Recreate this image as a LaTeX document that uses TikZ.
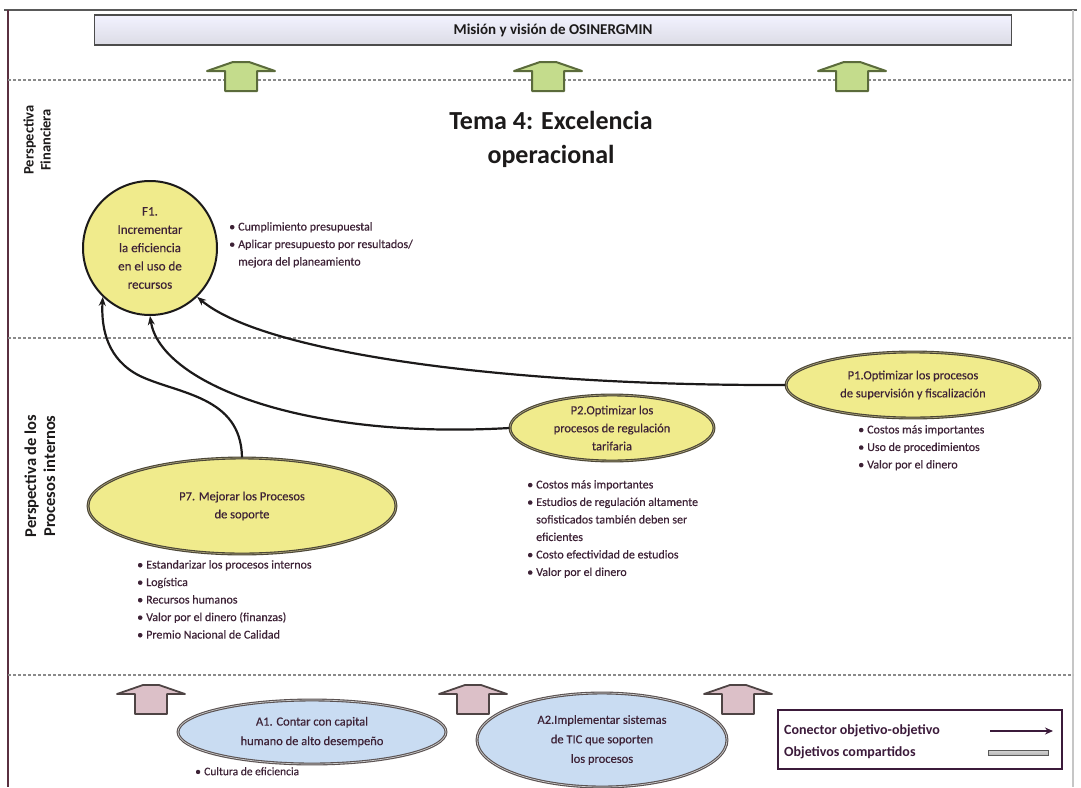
\documentclass[tikz,border=0pt]{standalone}
\usepackage{fontspec}
\setmainfont{Carlito}
\newfontfamily\semib[FakeBold=0.35]{Carlito}
\usetikzlibrary{shapes.geometric,arrows.meta}

\definecolor{txt}{HTML}{3D2236}
\definecolor{ink}{HTML}{1C1A1A}
\definecolor{goalfill}{HTML}{F0EB8C}
\definecolor{goalline}{HTML}{4A4535}
\definecolor{goalinner}{HTML}{A8A07A}
\definecolor{basefill}{HTML}{C9DCF2}
\definecolor{baseline}{HTML}{5A5252}
\definecolor{upgreen}{HTML}{C4DC8C}
\definecolor{upgreenline}{HTML}{5B6B3B}
\definecolor{uppink}{HTML}{DCC0C8}
\definecolor{uppinkline}{HTML}{4E4444}
\definecolor{sepgray}{HTML}{8A8A8A}
\definecolor{framered}{HTML}{5A3040}
\definecolor{legendink}{HTML}{3B1A3A}

\newcommand\bul{\makebox[9pt][l]{\textbullet}}
\newcommand\ind{\hspace*{9pt}}

\tikzset{
  blockup/.pic={
    \path[pic actions] (-16,29) -- (-16,9) -- (-34,9) -- (-8,0) -- (8,0)
      -- (34,9) -- (16,9) -- (16,29) -- cycle;
  },
  greenup/.style={draw=upgreenline, fill=upgreen, line width=2, line join=round},
  pinkup/.style={draw=uppinkline, fill=uppink, line width=1.8, line join=round},
  sepline/.style={draw=sepgray, line width=1.4, dash pattern=on 3pt off 2pt},
  goal/.style={ellipse, draw=goalline, double=goalinner, double distance=0.7pt,
    line width=1.1pt, fill=goalfill, inner sep=0pt, align=center, text=txt,
    font=\fontsize{12.5}{18}\semib},
  base/.style={ellipse, draw=baseline, double=gray!40, double distance=0.7pt,
    line width=1.1pt, fill=basefill, inner sep=0pt, align=center, text=txt,
    font=\fontsize{12.5}{19.5}\semib},
  notes/.style={anchor=north west, align=left, text=txt, inner sep=0pt,
    font=\fontsize{12}{17.5}\semib},
  persp/.style={rotate=90, align=center, text=ink,
    font=\fontsize{14.5}{17}\selectfont\bfseries},
  link/.style={draw=ink, line width=2.2pt, -{Stealth[length=9pt,width=7pt]}},
}

\begin{document}
\begin{tikzpicture}[x=1pt,y=-1pt]
\useasboundingbox (0,0) rectangle (1081,787);
\fill[white] (0,0) rectangle (1081,787);

% frame
\draw[gray!70!black, line width=2.5] (4,10) -- (1077,10);
\draw[gray!45, line width=2] (1073,10) -- (1073,787);
\draw[framered, line width=2.5] (8,10) -- (8,787);

% mission banner
\node[draw=gray!60!black, line width=1.2, top color=blue!5, bottom color=blue!16!gray!24,
      minimum width=917, minimum height=30, inner sep=0pt,
      font=\fontsize{15}{18}\selectfont\bfseries, text=ink] (mision) at (553,30)
      {Misión y visión de OSINERGMIN};

% perspective separators
\draw[sepline] (8,80) -- (1073,80);
\draw[sepline] (8,338) -- (1073,338);
\draw[sepline] (8,675) -- (1073,675);

% arrows up to the mission
\foreach \cx in {241,548,852} \pic[greenup] at (\cx,62) {blockup};
% arrows up from the learning objectives
\foreach \cx in {151,473,738} \pic[pinkup] at (\cx,685) {blockup};

% perspective labels
\node[persp] (pfin) at (37,140) {Perspectiva\\Financiera};
\node[persp, font=\fontsize{16.5}{19}\selectfont\bfseries] (pint) at (40,476)
  {Perspectiva de los\\Procesos internos};

% theme title
\node[align=center, text=ink, font=\fontsize{26}{34}\selectfont\bfseries] (tema) at (551,139)
  {Tema 4: Excelencia\\operacional};

% financial objective
\node[circle, draw=ink, line width=2, fill=goalfill, minimum size=134, inner sep=0pt,
      align=center, text=txt, font=\fontsize{13}{18.3}\semib] (F1) at (150,248)
  {F1.\\Incrementar\\la eficiencia\\en el uso de\\recursos};
\node[notes] (F1n) at (229,222)
  {\bul Cumplimiento presupuestal\\
   \bul Aplicar presupuesto por resultados/\\
   \ind mejora del planeamiento};

% internal process objectives
\node[goal, minimum width=254, minimum height=66] (P1) at (913,385)
  {P1.Optimizar los procesos\\de supervisión y fiscalización};
\node[notes] (P1n) at (858,425)
  {\bul Costos más importantes\\
   \bul Uso de procedimientos\\
   \bul Valor por el dinero};

\node[goal, minimum width=204, minimum height=66] (P2) at (612,428)
  {P2.Optimizar los\\procesos de regulación\\tarifaria};
\node[notes] (P2n) at (527,480)
  {\bul Costos más importantes\\
   \bul Estudios de regulación  altamente\\
   \ind sofisticados también deben ser\\
   \ind eficientes\\
   \bul Costo efectividad de estudios\\
   \bul Valor por el dinero};

\node[goal, minimum width=308, minimum height=96] (P7) at (242,506)
  {P7. Mejorar los Procesos\\de soporte};
\node[notes] (P7n) at (137,560)
  {\bul Estandarizar  los procesos internos\\
   \bul Logística\\
   \bul Recursos humanos\\
   \bul Valor por el dinero (finanzas)\\
   \bul Premio Nacional  de Calidad};

% learning objectives
\node[base, minimum width=268, minimum height=64] (A1) at (312,732)
  {A1. Contar con capital\\humano de alto desempeño};
\node[notes, font=\fontsize{11.5}{14}\semib] (A1n) at (195,767) {\bul Cultura de eficiencia};

\node[base, minimum width=250, minimum height=94] (A2) at (602,740)
  {A2.Implementar sistemas\\de TIC que soporten\\los procesos};

% objective-to-objective connectors
\draw[link] (P1.west) .. controls (500,386) and (262,352) .. (F1.314);
\draw[link] (P2.west) .. controls (300,440) and (160,382) .. (F1.south);
\draw[link] (P7.north) .. controls (241,396) and (178,394) .. (140,376)
  .. controls (108,360) and (101,330) .. (F1.226);

% legend
\node[draw=legendink, line width=2, minimum width=284, minimum height=59, inner sep=0pt]
  (legend) at (920,739) {};
\node[anchor=west, text=legendink, inner sep=0pt, font=\fontsize{14}{17}\selectfont\bfseries]
  (lg1) at (784,731) {Conector objetivo-objetivo};
\node[anchor=west, text=legendink, inner sep=0pt, font=\fontsize{14}{17}\selectfont\bfseries]
  (lg2) at (784,753) {Objetivos compartidos};
\coordinate (lgA) at (990,731);
\coordinate (lgB) at (1053,731);
\draw[draw=legendink, line width=2, -{Stealth[length=8pt,width=7pt]}] (lgA) -- (lgB);
\node[draw=gray!70!black, line width=0.8, top color=gray!35, bottom color=gray!60,
      minimum width=60, minimum height=5, inner sep=0pt] (lgbar) at (1018,753) {};
\end{tikzpicture}
\end{document}
